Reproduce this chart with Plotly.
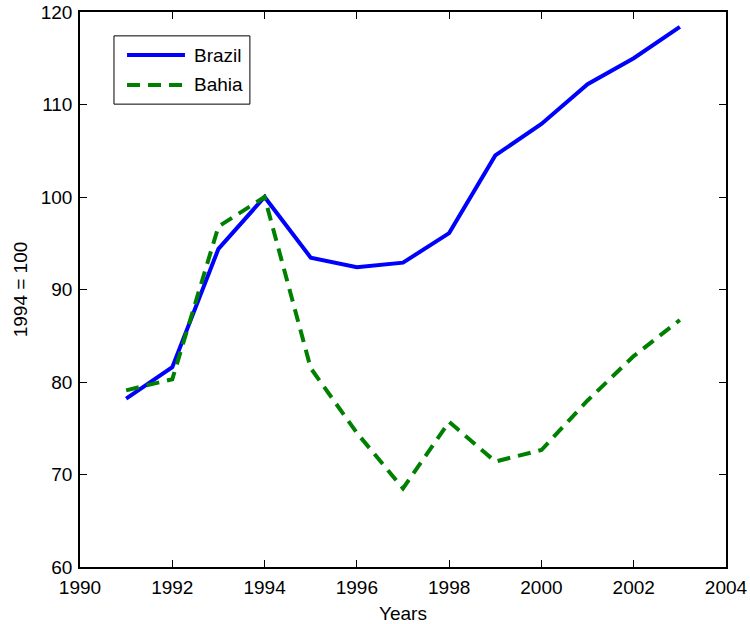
import plotly.graph_objects as go

years = [1991, 1992, 1993, 1994, 1995, 1996, 1997, 1998, 1999, 2000, 2001, 2002, 2003]
brazil = [78.2, 81.6, 94.4, 100.0, 93.45, 92.4, 92.9, 96.1, 104.5, 107.9, 112.2, 115.0, 118.4]
bahia = [79.1, 80.3, 96.8, 100.0, 81.5, 74.5, 68.5, 75.7, 71.4, 72.65, 78.0, 82.8, 86.7]
series_names = ["Brazil", "Bahia"]
x_ticks = [1990, 1992, 1994, 1996, 1998, 2000, 2002, 2004]
y_ticks = [60, 70, 80, 90, 100, 110, 120]

BLUE = "#0000ff"
GREEN = "#008000"
FONT = "Liberation Sans, Arial, sans-serif"
FS = 19

fig = go.Figure()
fig.add_trace(go.Scatter(x=years, y=brazil, mode="lines", name=series_names[0],
                         line=dict(color=BLUE, width=4)))
fig.add_trace(go.Scatter(x=years, y=bahia, mode="lines", name=series_names[1],
                         line=dict(color=GREEN, width=4, dash="13px,8px")))

axis_common = dict(showgrid=False, zeroline=False, showline=True, linecolor="black",
                   linewidth=1.5, mirror="ticks", ticks="inside", ticklen=7,
                   tickcolor="black", tickwidth=1, automargin=False,
                   tickfont=dict(family=FONT, size=FS, color="black"))

fig.update_layout(
    width=750, height=624,
    margin=dict(l=80, r=24, t=12, b=57),
    plot_bgcolor="white", paper_bgcolor="white",
    showlegend=False,
    xaxis=dict(range=[1990, 2004], tickvals=x_ticks, ticklabelstandoff=2,
               title=dict(text="Years", font=dict(family=FONT, size=FS, color="black"), standoff=12),
               **axis_common),
    yaxis=dict(range=[60, 120], tickvals=y_ticks, ticklabelstandoff=2,
               title=dict(text="1994 = 100", font=dict(family=FONT, size=FS, color="black"), standoff=8),
               **axis_common),
)

# custom legend (matching the reference's box)
fig.add_shape(type="rect", xref="paper", yref="paper", x0=0.0526, x1=0.263, y0=0.834, y1=0.957,
              line=dict(color="black", width=1), fillcolor="white", layer="above")
fig.add_shape(type="line", xref="paper", yref="paper", x0=0.0728, x1=0.1625, y0=0.9225, y1=0.9225,
              line=dict(color=BLUE, width=4), layer="above")
fig.add_shape(type="line", xref="paper", yref="paper", x0=0.0728, x1=0.1625, y0=0.8685, y1=0.8685,
              line=dict(color=GREEN, width=4, dash="13px,8px"), layer="above")
for name, yy in zip(series_names, [0.9225, 0.8685]):
    fig.add_annotation(xref="paper", yref="paper", x=0.1734, y=yy, text=name, showarrow=False,
                       xanchor="left", yanchor="middle",
                       font=dict(family=FONT, size=FS, color="black"))

fig.write_html("out.html")
